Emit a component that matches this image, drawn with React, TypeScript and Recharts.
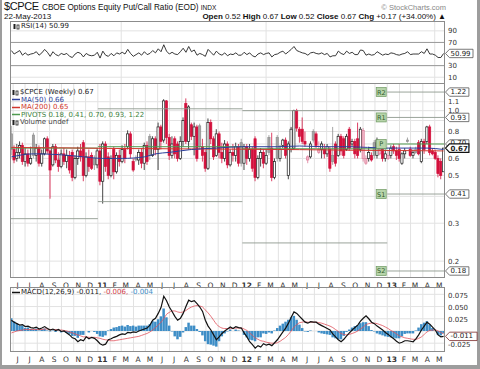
import React from 'react'
import {
  ComposedChart,
  Bar,
  Line,
  XAxis,
  YAxis,
  CartesianGrid,
  ReferenceLine,
  ReferenceDot,
} from 'recharts'

// weekly bars, first week = 24-May-2010, last = week of 22-May-2013
const opens = [
  0.78, 0.66, 0.6, 0.64, 0.69, 0.58, 0.63, 0.57, 0.77, 0.62, 0.67, 0.57, 0.63, 0.74, 0.65, 0.56, 0.68, 0.59, 0.55, 0.63,
  0.58, 0.62, 0.64, 0.49, 0.6, 0.65, 0.71, 0.5, 0.61, 0.62, 0.6, 0.56, 0.65, 0.47, 0.7, 0.61, 0.5, 0.66, 0.52, 0.62,
  0.58, 0.66, 0.68, 0.78, 0.58, 0.6, 0.59, 0.64, 0.57, 0.69, 0.76, 0.62, 0.74, 0.66, 0.84, 0.73, 1.11, 0.75, 0.62, 0.74,
  0.7, 0.6, 0.72, 1.08, 0.72, 0.86, 0.76, 0.84, 0.85, 0.68, 0.64, 0.54, 0.88, 0.74, 0.62, 0.78, 0.64, 0.6, 0.7, 0.56,
  0.64, 0.62, 0.68, 0.71, 0.57, 0.68, 0.6, 0.66, 0.74, 0.49, 0.6, 0.64, 0.57, 0.75, 0.67, 0.49, 0.75, 0.6, 0.69, 0.73,
  0.5, 0.66, 0.67, 1.0, 0.82, 0.82, 0.72, 0.59, 0.61, 0.8, 0.78, 0.64, 0.66, 0.66, 0.63, 0.66, 0.62, 0.7, 0.62, 0.76,
  0.74, 0.66, 0.82, 0.7, 0.72, 0.74, 0.66, 0.6, 0.57, 0.6, 0.62, 0.71, 0.62, 0.63, 0.66, 0.6, 0.6, 0.62, 0.68, 0.65,
  0.66, 0.57, 0.63, 0.73, 0.66, 0.62, 0.66, 0.71, 0.58, 0.72, 0.72, 0.84, 0.65, 0.64, 0.6, 0.58, 0.52,
]
const highs = [
  0.85, 0.69, 0.7, 0.72, 0.71, 0.67, 0.66, 0.68, 0.79, 0.7, 0.69, 0.66, 0.75, 0.76, 0.66, 0.7, 0.7, 0.64, 0.66, 0.67,
  0.66, 0.65, 0.66, 0.62, 0.68, 0.7, 0.73, 0.64, 0.66, 0.64, 0.62, 0.67, 0.7, 0.72, 0.72, 0.64, 0.62, 0.68, 0.64, 0.66,
  0.69, 0.7, 0.81, 0.8, 0.6, 0.62, 0.66, 0.67, 0.71, 0.72, 0.78, 0.76, 0.76, 0.88, 0.86, 1.13, 1.12, 0.78, 0.76, 0.76,
  0.72, 0.76, 0.93, 1.14, 1.06, 0.88, 0.88, 0.86, 0.87, 0.74, 0.66, 0.92, 0.91, 0.76, 0.82, 0.8, 0.71, 0.73, 0.72, 0.66,
  0.7, 0.71, 0.7, 0.74, 0.7, 0.7, 0.7, 0.68, 0.76, 0.62, 0.67, 0.66, 0.66, 0.77, 0.79, 0.6, 0.77, 0.69, 0.74, 0.75,
  0.72, 0.84, 1.01, 1.02, 0.84, 0.93, 0.8, 0.62, 0.72, 0.82, 0.8, 0.72, 0.72, 0.7, 0.7, 0.68, 0.84, 0.72, 0.78, 0.78,
  0.76, 0.78, 0.84, 0.74, 0.74, 0.88, 0.84, 0.83, 0.62, 0.68, 0.64, 0.73, 0.75, 0.67, 0.68, 0.66, 0.65, 0.69, 0.7, 0.68,
  0.7, 0.64, 0.67, 0.75, 0.68, 0.66, 0.68, 0.73, 0.74, 0.74, 0.85, 0.86, 0.67, 0.66, 0.62, 0.6, 0.67,
]
const lows = [
  0.62, 0.57, 0.58, 0.6, 0.56, 0.55, 0.55, 0.56, 0.6, 0.58, 0.55, 0.55, 0.62, 0.63, 0.39, 0.55, 0.57, 0.52, 0.54, 0.56,
  0.54, 0.51, 0.47, 0.48, 0.56, 0.58, 0.47, 0.49, 0.52, 0.53, 0.53, 0.54, 0.45, 0.37, 0.52, 0.48, 0.49, 0.48, 0.51, 0.55,
  0.57, 0.57, 0.66, 0.6, 0.52, 0.58, 0.56, 0.54, 0.53, 0.56, 0.59, 0.61, 0.62, 0.53, 0.66, 0.71, 0.7, 0.59, 0.6, 0.6,
  0.58, 0.59, 0.68, 0.7, 0.66, 0.73, 0.62, 0.58, 0.66, 0.58, 0.52, 0.53, 0.7, 0.59, 0.61, 0.6, 0.57, 0.58, 0.54, 0.55,
  0.58, 0.58, 0.55, 0.55, 0.53, 0.56, 0.58, 0.52, 0.47, 0.48, 0.55, 0.54, 0.56, 0.62, 0.47, 0.48, 0.58, 0.58, 0.67, 0.6,
  0.48, 0.64, 0.66, 0.8, 0.71, 0.7, 0.68, 0.57, 0.6, 0.71, 0.67, 0.63, 0.6, 0.6, 0.61, 0.52, 0.56, 0.55, 0.61, 0.62,
  0.6, 0.65, 0.65, 0.68, 0.6, 0.6, 0.64, 0.58, 0.56, 0.58, 0.58, 0.6, 0.6, 0.62, 0.58, 0.58, 0.59, 0.6, 0.63, 0.59,
  0.58, 0.56, 0.6, 0.71, 0.61, 0.6, 0.63, 0.62, 0.57, 0.63, 0.7, 0.62, 0.62, 0.59, 0.49, 0.48, 0.52,
]
const closes = [
  0.66, 0.59, 0.64, 0.69, 0.58, 0.63, 0.57, 0.6, 0.62, 0.67, 0.57, 0.63, 0.74, 0.65, 0.53, 0.68, 0.59, 0.55, 0.63, 0.58,
  0.62, 0.53, 0.49, 0.6, 0.65, 0.61, 0.5, 0.61, 0.55, 0.54, 0.56, 0.65, 0.47, 0.7, 0.55, 0.5, 0.6, 0.52, 0.62, 0.58,
  0.66, 0.6, 0.78, 0.63, 0.53, 0.59, 0.64, 0.57, 0.69, 0.58, 0.62, 0.74, 0.66, 0.84, 0.72, 1.11, 0.75, 0.62, 0.7, 0.63,
  0.6, 0.72, 0.9, 0.72, 1.04, 0.76, 0.84, 0.6, 0.68, 0.62, 0.54, 0.88, 0.74, 0.61, 0.78, 0.64, 0.6, 0.7, 0.56, 0.64,
  0.62, 0.68, 0.57, 0.57, 0.68, 0.6, 0.66, 0.54, 0.49, 0.6, 0.64, 0.57, 0.62, 0.64, 0.49, 0.58, 0.6, 0.66, 0.73, 0.62,
  0.7, 0.82, 1.0, 0.83, 0.76, 0.72, 0.7, 0.61, 0.7, 0.73, 0.69, 0.66, 0.7, 0.63, 0.68, 0.54, 0.58, 0.57, 0.76, 0.65,
  0.62, 0.76, 0.67, 0.72, 0.63, 0.62, 0.82, 0.81, 0.6, 0.64, 0.59, 0.62, 0.73, 0.66, 0.6, 0.63, 0.62, 0.67, 0.65, 0.62,
  0.6, 0.63, 0.65, 0.72, 0.62, 0.64, 0.64, 0.63, 0.72, 0.66, 0.84, 0.64, 0.63, 0.6, 0.51, 0.5, 0.67,
]
const rsi = [
  56, 50, 53, 56, 48, 52, 48, 50, 51, 54, 48, 52, 58, 53, 46, 54, 49, 47, 51, 49,
  51, 46, 44, 50, 53, 51, 45, 51, 48, 47, 48, 53, 43, 55, 48, 46, 51, 47, 52, 50,
  53, 50, 58, 51, 46, 49, 52, 48, 54, 49, 51, 56, 52, 59, 54, 66, 55, 50, 53, 50,
  49, 54, 60, 53, 63, 54, 57, 48, 51, 49, 46, 58, 53, 48, 55, 50, 48, 52, 47, 50,
  49, 52, 48, 48, 53, 49, 52, 47, 45, 50, 52, 49, 51, 52, 45, 49, 50, 53, 55, 50,
  54, 58, 63, 56, 54, 52, 51, 48, 52, 53, 51, 50, 52, 49, 51, 45, 47, 47, 55, 51,
  49, 55, 51, 53, 49, 49, 57, 56, 48, 50, 48, 49, 54, 51, 48, 50, 49, 52, 51, 49,
  48, 50, 51, 54, 49, 50, 50, 50, 54, 51, 59, 50, 50, 48, 44, 44, 50.99,
]
const macd = [
  0.022, 0.018, 0.015, 0.012, 0.013, 0.009, 0.01, 0.007, 0.006, 0.008,
  0.004, 0.006, 0.009, 0.005, 0.002, 0.004, 0.001, 0.003, -0.001, 0.0,
  -0.004, -0.008, -0.014, -0.016, -0.022, -0.018, -0.02, -0.012, -0.016, -0.013,
  -0.015, -0.02, -0.026, -0.029, -0.027, -0.018, -0.016, -0.013, -0.011, -0.008,
  -0.006, -0.007, -0.003, -0.004, -0.002, -0.003, 0.0, 0.002, 0.004, 0.006,
  0.012, 0.022, 0.026, 0.036, 0.048, 0.071, 0.062, 0.049, 0.04, 0.03,
  0.022, 0.026, 0.036, 0.05, 0.063, 0.06, 0.062, 0.056, 0.049, 0.04,
  0.022, 0.01, 0.002, -0.008, -0.018, -0.012, -0.005, 0.0, 0.004, 0.008,
  0.005, 0.009, 0.007, 0.006, -0.004, -0.012, -0.022, -0.028, -0.035, -0.03,
  -0.033, -0.026, -0.029, -0.027, -0.03, -0.024, -0.018, -0.01, -0.002, 0.006,
  0.016, 0.028, 0.039, 0.036, 0.03, 0.024, 0.018, 0.016, 0.019, 0.018,
  0.018, 0.014, 0.011, 0.008, 0.005, 0.002, -0.006, -0.012, -0.018, -0.022,
  -0.017, -0.01, -0.004, 0.002, 0.007, 0.012, 0.02, 0.026, 0.031, 0.025,
  0.018, 0.015, 0.01, 0.006, 0.002, -0.003, -0.007, -0.012, -0.016, -0.021,
  -0.025, -0.023, -0.02, -0.02, -0.021, -0.022, -0.016, -0.008, 0.002, 0.01,
  0.018, 0.014, 0.008, 0.002, -0.008, -0.012, -0.011,
]
const signal = [
  -0.004, -0.002, 0.0, 0.001, 0.002, 0.003, 0.003, 0.003, 0.003, 0.003,
  0.003, 0.003, 0.004, 0.004, 0.003, 0.003, 0.003, 0.002, 0.002, 0.001,
  0.0, -0.002, -0.004, -0.006, -0.008, -0.01, -0.012, -0.012, -0.013, -0.013,
  -0.013, -0.014, -0.015, -0.017, -0.018, -0.019, -0.02, -0.02, -0.019, -0.018,
  -0.017, -0.016, -0.015, -0.014, -0.013, -0.012, -0.011, -0.009, -0.007, -0.005,
  -0.002, 0.002, 0.007, 0.012, 0.018, 0.025, 0.034, 0.038, 0.041, 0.041,
  0.039, 0.038, 0.039, 0.042, 0.046, 0.049, 0.051, 0.052, 0.051, 0.049,
  0.043, 0.037, 0.03, 0.022, 0.014, 0.009, 0.006, 0.005, 0.005, 0.005,
  0.005, 0.006, 0.006, 0.006, 0.004, 0.001, -0.004, -0.009, -0.014, -0.017,
  -0.02, -0.021, -0.023, -0.024, -0.025, -0.025, -0.024, -0.021, -0.017, -0.013,
  -0.007, 0.0, 0.008, 0.013, 0.017, 0.018, 0.019, 0.018, 0.018, 0.018,
  0.018, 0.017, 0.016, 0.014, 0.012, 0.01, 0.007, 0.003, -0.001, -0.005,
  -0.007, -0.008, -0.007, -0.005, -0.003, 0.0, 0.004, 0.008, 0.013, 0.015,
  0.016, 0.016, 0.015, 0.013, 0.011, 0.008, 0.005, 0.001, -0.002, -0.006,
  -0.01, -0.012, -0.014, -0.015, -0.016, -0.017, -0.017, -0.015, -0.012, -0.007,
  -0.002, 0.001, 0.002, 0.002, 0.0, -0.003, -0.006,
]
const hist = [
  0.026, 0.02, 0.015, 0.011, 0.011, 0.006, 0.007, 0.004, 0.003, 0.005,
  0.001, 0.003, 0.005, 0.001, -0.001, 0.001, -0.002, 0.001, -0.003, -0.001,
  -0.004, -0.006, -0.01, -0.01, -0.014, -0.008, -0.008, 0.0, -0.003, 0.0,
  -0.002, -0.006, -0.011, -0.012, -0.009, 0.001, 0.004, 0.007, 0.008, 0.01,
  0.011, 0.009, 0.012, 0.01, 0.011, 0.009, 0.011, 0.011, 0.011, 0.011,
  0.014, 0.02, 0.019, 0.024, 0.03, 0.046, 0.028, 0.011, -0.001, -0.011,
  -0.017, -0.012, -0.003, 0.008, 0.017, 0.011, 0.011, 0.004, -0.002, -0.009,
  -0.021, -0.027, -0.028, -0.03, -0.032, -0.021, -0.011, -0.005, -0.001, 0.003,
  0.0, 0.003, 0.001, 0.0, -0.008, -0.013, -0.018, -0.019, -0.021, -0.013,
  -0.013, -0.005, -0.006, -0.003, -0.005, 0.001, 0.006, 0.011, 0.015, 0.019,
  0.023, 0.028, 0.031, 0.023, 0.013, 0.006, -0.001, -0.002, 0.001, 0.0,
  0.0, -0.003, -0.005, -0.006, -0.007, -0.008, -0.013, -0.015, -0.017, -0.017,
  -0.01, -0.002, 0.003, 0.007, 0.01, 0.012, 0.016, 0.018, 0.018, 0.01,
  0.002, -0.001, -0.005, -0.007, -0.009, -0.011, -0.012, -0.013, -0.014, -0.015,
  -0.015, -0.011, -0.006, -0.005, -0.005, -0.005, 0.001, 0.007, 0.014, 0.017,
  0.02, 0.013, 0.006, 0.0, -0.008, -0.009, -0.005,
]

// moving averages read at a few weeks
const maWeeks = [0, 8, 17, 26, 33, 40, 48, 52, 57, 65, 74, 83, 96, 104, 113, 122, 135, 145, 150, 156]
const ma50 = [0.61, 0.63, 0.625, 0.61, 0.6, 0.6, 0.61, 0.63, 0.64, 0.66, 0.67, 0.68, 0.68, 0.685, 0.68, 0.68, 0.67, 0.67, 0.67, 0.66]
const ma200 = [0.675, 0.673, 0.672, 0.67, 0.668, 0.667, 0.666, 0.666, 0.665, 0.664, 0.663, 0.662, 0.66, 0.659, 0.657, 0.655, 0.653, 0.652, 0.651, 0.65]

// yearly pivots
const pivotYears = [2010, 2011, 2012, 2013]
const pivotP = [0.67, 0.68, 0.665, 0.7]
const pivotR1 = [null, 1.02, 1.0, 0.93]
const pivotR2 = [null, null, null, 1.22]
const pivotS1 = [0.315, 0.378, 0.243, 0.41]
const pivotS2 = [null, null, null, 0.18]

const monthLabels = [
  'J', 'J', 'A', 'S', 'O', 'N', 'D', '11', 'F', 'M', 'A', 'M', 'J', 'J', 'A', 'S', 'O', 'N', 'D',
  '12', 'F', 'M', 'A', 'M', 'J', 'J', 'A', 'S', 'O', 'N', 'D', '13', 'F', 'M', 'A', 'M',
]

const rsiLabels = [90, 70, 30, 10]
const priceLabels = [1.1, 1.0, 0.8, 0.6, 0.5, 0.3, 0.2]
const priceGrid = [0.2, 0.3, 0.4, 0.5, 0.6, 0.7, 0.8, 0.9, 1.0, 1.1]
const macdLabels = [0.075, 0.05, 0.025, -0.025]

const N = closes.length
const W0 = Date.UTC(2010, 4, 24)
const pos = (t: number) => (t - W0) / (7 * 86400000) - 0.5
const monthTicks = monthLabels.map((_, k) => pos(Date.UTC(2010, 5 + k, 1)))

const rows: any[] = closes.map((c, i) => ({
  i,
  open: opens[i],
  high: highs[i],
  low: lows[i],
  close: c,
  prev: i > 0 ? closes[i - 1] : null,
  range: [lows[i], highs[i]],
  rsi: rsi[i],
  macd: macd[i],
  signal: signal[i],
  hist: hist[i],
}))
maWeeks.forEach((w, k) => {
  rows[w].ma50 = ma50[k]
  rows[w].ma200 = ma200[k]
})

const yearStart = (y: number, k: number) => (k === 0 ? -0.5 : pos(Date.UTC(y, 0, 1)))
const yearEnd = (k: number) => (k === pivotYears.length - 1 ? N - 0.5 : pos(Date.UTC(pivotYears[k + 1], 0, 1)))

const SMALL = '"DejaVu Sans", Verdana, sans-serif'
const HEAD = '"Liberation Sans", Arial, sans-serif'
const GRID = '#e2e2e2'

const Candle = (props: any) => {
  const { x, y, width, height, payload } = props
  if (x == null || !payload) return null
  const top = Math.min(y, y + height)
  const h = Math.abs(height)
  const lh = Math.log(payload.high)
  const ll = Math.log(payload.low)
  const py = (v: number) => top + ((lh - Math.log(v)) / (lh - ll || 1)) * h
  const cx = x + width / 2
  const up = payload.prev == null || payload.close >= payload.prev
  const filled = payload.close < payload.open
  let stroke = '#111'
  let fill = '#fff'
  if (up) {
    stroke = filled ? '#8f8f8f' : '#1a1a1a'
    fill = filled ? '#a3a3a3' : '#fff'
  } else {
    stroke = filled ? '#d3103c' : '#dd7a98'
    fill = filled ? '#d3103c' : '#f0b8c8'
  }
  const bt = py(Math.max(payload.open, payload.close))
  const bb = py(Math.min(payload.open, payload.close))
  return (
    <g>
      <line x1={cx} x2={cx} y1={top} y2={top + h} stroke={stroke} strokeWidth={0.8} />
      <rect x={cx - 1.1} y={bt} width={2.2} height={Math.max(bb - bt, 0.8)} fill={fill} stroke={stroke} strokeWidth={0.7} />
    </g>
  )
}

type Badge = { v: number; text: string; strong?: boolean; color?: string; dy?: number }

const makeAxisTick = (labels: number[], badges: Badge[], fmt: (v: number) => string, ldy = 0) => (props: any) => {
  const { x, y, payload } = props
  const v = payload.value
  const b = badges.find((d) => Math.abs(d.v - v) < 1e-9)
  if (b) {
    const w = b.text.length * 4.1 + 3
    const x0 = x + 0.5
    return (
      <g>
        <path
          d={`M${x0},${y} L${x0 + 4},${y - 4.2} L${x0 + 4 + w},${y - 4.2} L${x0 + 4 + w},${y + 4.2} L${x0 + 4},${y + 4.2} Z`}
          fill="#fff"
          stroke={b.color || '#555'}
          strokeWidth={b.strong ? 1.2 : 0.8}
        />
        <text x={x0 + 5} y={y + 2.4 + (b.dy || 0)} fontSize={7} fontFamily={SMALL} fontWeight={b.strong ? 'bold' : 'normal'} fill="#222">
          {b.text}
        </text>
      </g>
    )
  }
  if (!labels.some((l) => Math.abs(l - v) < 1e-9)) return null
  return (
    <text x={x + 3} y={y + 2.5 + ldy} fontSize={7} fontFamily={SMALL} fill="#333">
      {fmt(v)}
    </text>
  )
}

const MonthTick = (props: any) => {
  const { x, y, payload } = props
  const k = monthTicks.findIndex((t) => Math.abs(t - payload.value) < 1e-6)
  if (k < 0) return null
  const lab = monthLabels[k]
  return (
    <text x={x + 4.5} y={y + 7.5} textAnchor="middle" fontSize={7.5} fontFamily={SMALL} fontWeight={lab.length > 1 ? 'bold' : 'normal'} fill="#333">
      {lab}
    </text>
  )
}

const PivotTag = (props: any) => {
  const { cx, cy, label } = props
  if (cx == null) return null
  return (
    <g>
      <rect x={cx - 11} y={cy - 4.5} width={10} height={9} fill="#b7d4aa" stroke="#6e9962" strokeWidth={0.7} />
      <text x={cx - 6} y={cy + 2.5} textAnchor="middle" fontSize={6.5} fontFamily={SMALL} fill="#2f5a2a">
        {label}
      </text>
    </g>
  )
}

const rsiTick = makeAxisTick(rsiLabels, [{ v: 50.99, text: '50.99' }], (v) => String(v))
const priceTick = makeAxisTick(
  priceLabels,
  [
    { v: 1.22, text: '1.22' },
    { v: 0.93, text: '0.93' },
    { v: 0.7, text: '0.70', dy: -1.8 },
    { v: 0.41, text: '0.41' },
    { v: 0.18, text: '0.18' },
    { v: 0.67, text: '0.67', strong: true, color: '#111', dy: 0.6 },
  ],
  (v) => v.toFixed(1)
)
const macdTick = makeAxisTick(macdLabels, [{ v: -0.011, text: '-0.011', color: '#7a2a2a', dy: -0.6 }], (v) => v.toFixed(3), 0.8)

const PL = 10
const RSI_TOP = 21
const RSI_H = 62
const MAIN_TOP = 83
const MAIN_H = 195
const MACD_TOP = 287
const MACD_H = 65

const abs = (l: number, t: number, extra: React.CSSProperties = {}): React.CSSProperties => ({
  position: 'absolute',
  left: l,
  top: t,
  whiteSpace: 'nowrap',
  lineHeight: 1,
  ...extra,
})

const CandleIcon = () => (
  <svg width={7} height={7} style={{ verticalAlign: 'middle', marginRight: 1 }}>
    <rect x={0.5} y={1} width={2} height={5} fill="#222" />
    <rect x={4} y={2} width={2} height={4} fill="none" stroke="#222" strokeWidth={0.8} />
  </svg>
)

const Dash = ({ color }: { color: string }) => (
  <svg width={8} height={5} style={{ verticalAlign: 'middle', marginRight: 1 }}>
    <line x1={0} x2={8} y1={2.5} y2={2.5} stroke={color} strokeWidth={1.5} />
  </svg>
)

export default function App() {
  const panel = (t: number, h: number): React.CSSProperties => ({
    position: 'absolute',
    left: PL,
    top: t,
    width: 435,
    height: h,
    boxSizing: 'border-box',
    border: '1px solid #8c8c8c',
    pointerEvents: 'none',
  })
  const pivotSegs: { s: number; e: number; v: number; p: boolean }[] = []
  pivotYears.forEach((y, k) => {
    const s = yearStart(y, k)
    const e = yearEnd(k)
    ;[pivotR2[k], pivotR1[k], pivotS1[k], pivotS2[k]].forEach((v) => {
      if (v != null) pivotSegs.push({ s, e, v, p: false })
    })
    pivotSegs.push({ s, e, v: pivotP[k], p: true })
  })
  const lastK = pivotYears.length - 1
  const lastStart = yearStart(pivotYears[lastK], lastK)
  const tags: { v: number | null; label: string }[] = [
    { v: pivotR2[lastK], label: 'R2' },
    { v: pivotR1[lastK], label: 'R1' },
    { v: pivotP[lastK], label: 'P' },
    { v: pivotS1[lastK], label: 'S1' },
    { v: pivotS2[lastK], label: 'S2' },
  ]

  return (
    <div style={{ position: 'absolute', left: 0, top: 0, width: 480, height: 369, background: '#fff', overflow: 'hidden' }}>
      <div style={{ position: 'absolute', left: 0, top: 0, width: 2, height: 369, background: '#9d9d9d' }} />
      <div style={{ position: 'absolute', right: 0, top: 0, width: 3, height: 369, background: '#9d9d9d' }} />
      <div style={{ position: 'absolute', left: 0, bottom: 0, width: 480, height: 4, background: '#9d9d9d' }} />

      <div style={abs(4, 1, { fontFamily: HEAD, fontSize: 11, letterSpacing: -0.4, color: '#111' })}>$CPCE</div>
      <div style={abs(42, 3.5, { fontFamily: HEAD, fontSize: 8.2, color: '#111' })}>
        CBOE Options Equity Put/Call Ratio (EOD) <span style={{ fontSize: 6.5 }}>INDX</span>
      </div>
      <div style={abs(4, 13, { fontFamily: HEAD, fontSize: 8, color: '#111' })}>22-May-2013</div>
      <div style={abs(0, 4, { fontFamily: HEAD, fontSize: 7.5, color: '#888', left: 'auto', right: 34 })}>© StockCharts.com</div>
      <div style={abs(0, 13, { fontFamily: HEAD, fontSize: 8, color: '#111', left: 'auto', right: 34 })}>
        <b>Open</b> 0.52 <b>High</b> 0.67 <b>Low</b> 0.52 <b>Close</b> 0.67 <b>Chg</b> +0.17 (+34.00%) ▲
      </div>

      <div style={{ position: 'absolute', left: 0, top: RSI_TOP }}>
        <ComposedChart width={480} height={RSI_H} data={rows} margin={{ top: 0, right: 0, bottom: 0, left: PL }}>
          <CartesianGrid stroke={GRID} verticalValues={monthTicks} horizontalValues={[10, 30, 70, 90]} />
          <XAxis dataKey="i" type="number" domain={[-0.5, N - 0.5]} ticks={monthTicks} hide allowDataOverflow />
          <YAxis
            orientation="right"
            width={35}
            domain={[0, 107]}
            ticks={[90, 70, 30, 10, 50.99]}
            interval={0}
            tick={rsiTick}
            tickSize={0}
            tickMargin={0}
            axisLine={false}
            tickLine={false}
            allowDataOverflow
          />
          <ReferenceLine y={70} stroke="#9a9a9a" />
          <ReferenceLine y={30} stroke="#9a9a9a" />
          <Line dataKey="rsi" type="linear" stroke="#222" strokeWidth={0.9} dot={false} isAnimationActive={false} />
        </ComposedChart>
      </div>

      <div style={{ position: 'absolute', left: 0, top: MAIN_TOP }}>
        <ComposedChart width={480} height={MAIN_H + 11} data={rows} margin={{ top: 0, right: 0, bottom: 0, left: PL }}>
          <CartesianGrid stroke={GRID} verticalValues={monthTicks} horizontalValues={priceGrid} />
          <XAxis
            dataKey="i"
            type="number"
            domain={[-0.5, N - 0.5]}
            ticks={monthTicks}
            interval={0}
            height={11}
            tick={<MonthTick />}
            tickSize={0}
            axisLine={false}
            tickLine={false}
            allowDataOverflow
          />
          <YAxis
            orientation="right"
            width={35}
            scale="log"
            domain={[0.167, 1.344]}
            ticks={[1.1, 1.0, 0.8, 0.6, 0.5, 0.3, 0.2, 1.22, 0.93, 0.7, 0.41, 0.18, 0.67]}
            interval={0}
            tick={priceTick}
            tickSize={0}
            tickMargin={0}
            axisLine={false}
            tickLine={false}
            allowDataOverflow
          />
          {pivotSegs.map((sg, k) => (
            <ReferenceLine
              key={'pv' + k}
              segment={[
                { x: sg.s, y: sg.v },
                { x: sg.e, y: sg.v },
              ]}
              stroke={sg.p ? '#4f9a4f' : '#8e9a8e'}
              strokeWidth={sg.p ? 1 : 0.9}
              ifOverflow="hidden"
            />
          ))}
          <Bar dataKey="range" barSize={3} shape={(p: any) => <Candle {...p} />} isAnimationActive={false} />
          <Line dataKey="ma200" type="monotone" connectNulls stroke="#d2372d" strokeWidth={1} dot={false} isAnimationActive={false} />
          <Line dataKey="ma50" type="monotone" connectNulls stroke="#2c3f9c" strokeWidth={1} dot={false} isAnimationActive={false} />
          {tags.map((t) =>
            t.v == null ? null : (
              <ReferenceDot
                key={t.label}
                x={lastStart}
                y={t.v}
                r={0}
                ifOverflow="visible"
                shape={(p: any) => <PivotTag {...p} label={t.label} />}
              />
            )
          )}
        </ComposedChart>
      </div>

      <div style={{ position: 'absolute', left: 0, top: MACD_TOP }}>
        <ComposedChart width={480} height={MACD_H + 12} data={rows} margin={{ top: 0, right: 0, bottom: 0, left: PL }}>
          <CartesianGrid stroke={GRID} verticalValues={monthTicks} horizontalValues={[-0.025, 0, 0.025, 0.05, 0.075]} />
          <XAxis
            dataKey="i"
            type="number"
            domain={[-0.5, N - 0.5]}
            ticks={monthTicks}
            interval={0}
            height={12}
            tick={<MonthTick />}
            tickSize={0}
            axisLine={false}
            tickLine={false}
            allowDataOverflow
          />
          <YAxis
            orientation="right"
            width={35}
            domain={[-0.043, 0.09]}
            ticks={[0.075, 0.05, 0.025, -0.025, -0.011]}
            interval={0}
            tick={macdTick}
            tickSize={0}
            tickMargin={0}
            axisLine={false}
            tickLine={false}
            allowDataOverflow
          />
          <Bar dataKey="hist" barSize={3} fill="#3d8dc6" isAnimationActive={false} />
          <Line dataKey="signal" type="monotone" stroke="#e0505a" strokeWidth={0.8} dot={false} isAnimationActive={false} />
          <Line dataKey="macd" type="linear" stroke="#111" strokeWidth={1.2} dot={false} isAnimationActive={false} />
        </ComposedChart>
      </div>

      <div style={panel(RSI_TOP, RSI_H + 1)} />
      <div style={panel(MAIN_TOP, MAIN_H)} />
      <div style={panel(MACD_TOP, MACD_H)} />

      <div style={abs(13, 23, { fontFamily: SMALL, fontSize: 7, color: '#222' })}>
        <CandleIcon />
        RSI(14) 50.99
      </div>

      <div style={abs(12, 89, { fontFamily: SMALL, fontSize: 7, color: '#222' })}>
        <CandleIcon />
        $CPCE (Weekly) 0.67
      </div>
      <div style={abs(12, 96.5, { fontFamily: SMALL, fontSize: 7, color: '#2c3f9c' })}>
        <Dash color="#2c3f9c" />
        MA(50) 0.66
      </div>
      <div style={abs(12, 104, { fontFamily: SMALL, fontSize: 7, color: '#d2372d' })}>
        <Dash color="#d2372d" />
        MA(200) 0.65
      </div>
      <div style={abs(12, 111.5, { fontFamily: SMALL, fontSize: 7, color: '#3d7f3d' })}>
        <Dash color="#4f9a4f" />
        PIVOTS 0.18, 0.41, 0.70, 0.93, 1.22
      </div>
      <div style={abs(12, 119, { fontFamily: SMALL, fontSize: 7, color: '#444' })}>
        <CandleIcon />
        Volume undef
      </div>

      <div style={abs(12, 289, { fontFamily: SMALL, fontSize: 7, color: '#222' })}>
        <Dash color="#111" />
        MACD(12,26,9) -0.011, <span style={{ color: '#d0404a' }}>-0.006,</span>{' '}
        <span style={{ color: '#3d8dc6' }}>-0.004</span>
      </div>
    </div>
  )
}
